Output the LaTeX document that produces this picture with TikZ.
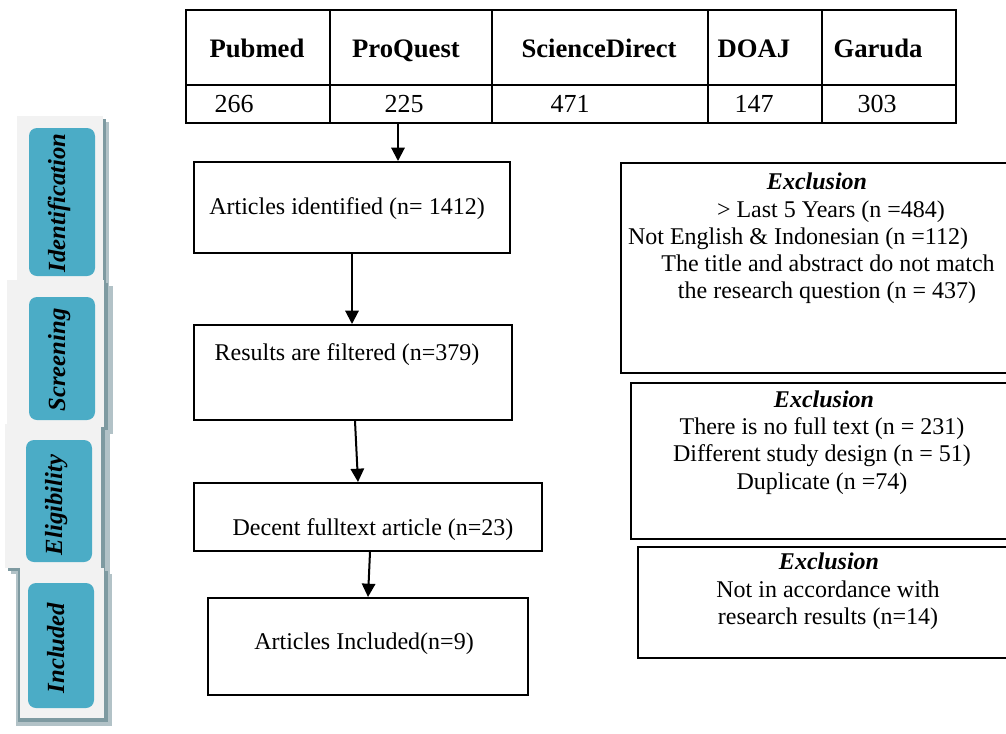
\documentclass[tikz,border=0pt]{standalone}
\usepackage{fontspec}
\setmainfont{Liberation Serif}
\usetikzlibrary{arrows.meta,fit,calc}
\definecolor{tealbox}{HTML}{4BACC6}
\definecolor{cardgray}{HTML}{F2F2F2}
\definecolor{shadowc}{HTML}{7E9AA1}
\begin{document}
\begin{tikzpicture}[x=0.75pt,y=-0.75pt,
  box/.style={draw, line width=1.5pt, inner sep=0pt},
  xbox/.style={draw, line width=1.9pt, inner sep=0pt},
  tline/.style={line width=2.2pt},
  arr/.style={line width=1.5pt, -{Triangle[width=10pt,length=10pt]}},
  txt/.style={inner sep=0pt, anchor=base},
  body/.style={txt, font=\fontsize{18}{20}\selectfont},
  hd/.style={txt, font=\fontsize{20}{22}\selectfont\bfseries},
  val/.style={txt, font=\fontsize{19.5}{22}\selectfont},
  exh/.style={txt, font=\fontsize{18}{20}\selectfont\bfseries\itshape},
  stage/.style={inner sep=0pt, text height=0.7em, text depth=0.22em,
    font=\fontsize{18.5}{20}\selectfont\bfseries\itshape, rotate=90},
  shadowlight/.style={fill=shadowc!60},
  shadowdark/.style={fill=shadowc},
  card/.style={fill=cardgray},
  tealcard/.style={fill=tealbox, rounded corners=6pt},
]
\useasboundingbox (0,0) rectangle (1006,733);

% ---------- stage cards ----------
% Identification
\fill[shadowlight] (23,122) rectangle (109,286);
\fill[shadowdark] (20,119) rectangle (106,284);
\fill[card] (17,116) rectangle (103,282);
\fill[tealcard] (29,128) rectangle (95,276);
\node[stage] (sid) at (62,203) {Identification};
% Screening
\fill[shadowlight] (13,286) rectangle (113,434);
\fill[shadowdark] (10,283) rectangle (108,431);
\fill[card] (7,280) rectangle (104,428);
\fill[tealcard] (29,297) rectangle (95,420);
\node[stage] (ssc) at (62,360) {Screening};
% Eligibility
\fill[shadowlight] (11,430) rectangle (110,574);
\fill[shadowdark] (8,427) rectangle (105,571);
\fill[card] (5,424) rectangle (101,568);
\fill[tealcard] (26,440) rectangle (92,562);
\node[stage] (sel) at (59,505) {Eligibility};
% Included
\fill[shadowlight] (16,574) rectangle (112,726);
\fill[shadowdark] (18,571) rectangle (108,722);
\fill[card] (20,568) rectangle (104,718);
\fill[tealcard] (28,583) rectangle (94,708);
\node[stage] (sin) at (61,648) {Included};

% ---------- database table ----------
\node[fit={(186,10) (956,123)}, draw, tline, inner sep=0pt] (tbl) {};
\draw[tline] (186,85) -- (956,85);
\foreach \cx in {330,492,708,822} \draw[tline] (\cx,10) -- (\cx,123);
\node[hd] (h1) at (257,57) {Pubmed};
\node[hd] (h2) at (406,57) {ProQuest};
\node[hd] (h3) at (599,57) {ScienceDirect};
\node[hd] (h4) at (754,57) {DOAJ};
\node[hd] (h5) at (878,57) {Garuda};
\node[val] (v1) at (234,112) {266};
\node[val] (v2) at (404,112) {225};
\node[val] (v3) at (570,112) {471};
\node[val] (v4) at (754,112) {147};
\node[val] (v5) at (877,112) {303};

% ---------- flow boxes ----------
\node[box, fit={(194,162) (510,253)}] (b1) {};
\node[body] (t1) at (347,214) {Articles identified (n= 1412)};
\node[box, fit={(194,325) (512,420)}] (b2) {};
\node[body] (t2) at (347,360) {Results are filtered (n=379)};
\node[box, fit={(194,483) (542,551)}] (b3) {};
\node[body] (t3) at (373,535) {Decent fulltext article (n=23)};
\node[box, fit={(208,598) (528,695)}] (b4) {};
\node[body] (t4) at (364,649) {Articles Included(n=9)};

% ---------- arrows ----------
\coordinate (x0) at (398,0);
\coordinate (x1) at (352,0);
\coordinate (x2a) at (355,0);
\coordinate (x2b) at (358,0);
\coordinate (x3a) at (370,0);
\coordinate (x3b) at (368,0);
\draw[arr] (tbl.south -| x0) -- (b1.north -| x0);
\draw[arr] (b1.south -| x1) -- (b2.north -| x1);
\draw[arr] (b2.south -| x2a) -- (b3.north -| x2b);
\draw[arr] (b3.south -| x3a) -- (b4.north -| x3b);

% ---------- exclusion boxes ----------
\node[xbox, fit={(621,163) (1016,373)}] (e1) {};
\node[exh] (e1h) at (817,189) {Exclusion};
\node[body] (e1a) at (831,217) {\textgreater\ Last 5 Years (n =484)};
\node[body] (e1b) at (798,244) {Not English \& Indonesian (n =112)};
\node[body] (e1c) at (828,271) {The title and abstract do not match};
\node[body] (e1d) at (827,298) {the research question (n = 437)};

\node[xbox, fit={(631,383) (1016,539)}] (e2) {};
\node[exh] (e2h) at (824,407) {Exclusion};
\node[body] (e2a) at (822,434) {There is no full text (n = 231)};
\node[body] (e2b) at (822,461) {Different study design (n = 51)};
\node[body] (e2c) at (822,489) {Duplicate (n =74)};

\node[xbox, fit={(638,547) (1016,658)}] (e3) {};
\node[exh] (e3h) at (829,569) {Exclusion};
\node[body] (e3a) at (828,597) {Not in accordance with};
\node[body] (e3b) at (828,624) {research results (n=14)};
\end{tikzpicture}
\end{document}
